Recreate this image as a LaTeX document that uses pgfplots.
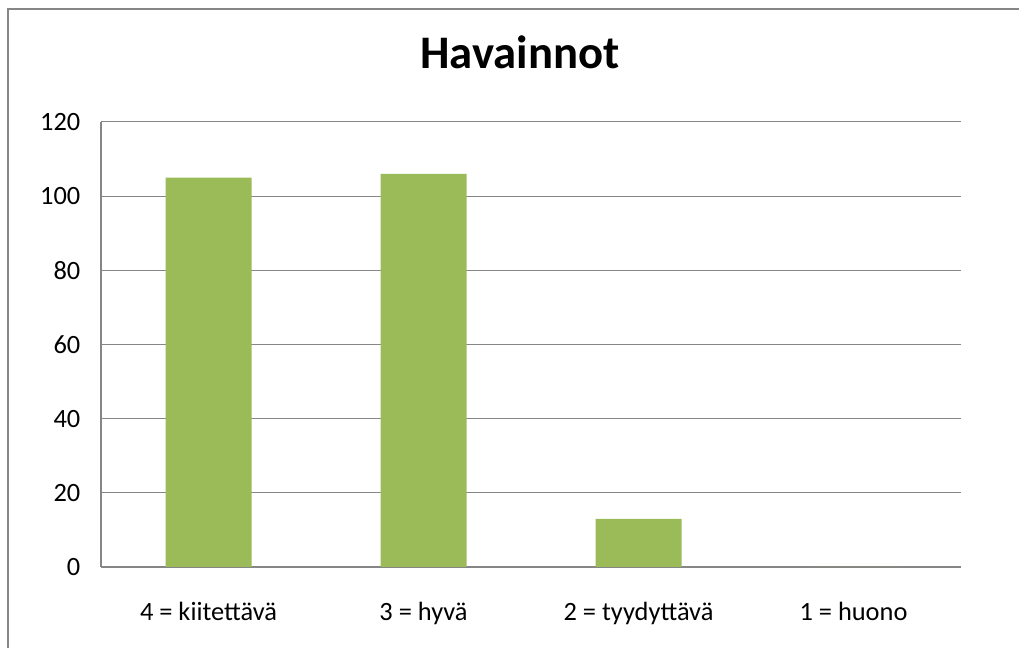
\documentclass[border=0pt]{standalone}
\usepackage{pgfplots}
\pgfplotsset{compat=1.18}
\usepackage{fontspec}
\setmainfont{Carlito}
\definecolor{bargreen}{HTML}{9BBB59}
\definecolor{gridgray}{HTML}{868686}
\begin{document}
\begin{tikzpicture}[x=0.75pt,y=0.75pt]
\useasboundingbox (0,0) rectangle (1019,648);
\begin{scope}
\clip (0,0) rectangle (1019,648);
\draw[gridgray, line width=1.2pt] (8,-50) -- (8,639) -- (1100,639);
\end{scope}
\node[font=\bfseries\fontsize{35}{38}\selectfont, anchor=base] at (520,648-69) {Havainnot};
\begin{axis}[
  at={(101*0.75pt,81*0.75pt)}, anchor=south west,
  scale only axis,
  width=645pt, height=333.75pt,
  xmin=-0.5, xmax=3.5, ymin=0, ymax=120,
  ytick={0,20,...,120},
  xtick={0,1,2,3},
  xticklabels={4 = kiitettävä, 3 = hyvä, 2 = tyydyttävä, 1 = huono},
  ymajorgrids,
  grid style={gridgray, line width=0.75pt},
  axis x line*=bottom,
  axis y line*=left,
  axis line style={gridgray, line width=0.9pt},
  tick style={draw=none},
  major tick length=0pt,
  ticklabel style={font=\fontsize{19.8}{22}\selectfont, text=black},
  /pgf/number format/assume math mode=true,
  yticklabel style={xshift=-12pt},
  xticklabel style={yshift=-23pt},
  ybar, bar width=64.5pt,
  enlarge x limits=false,
  clip=false,
]
\addplot[fill=bargreen, draw=none] coordinates {(0,105) (1,106) (2,13) (3,0)};
\end{axis}
\end{tikzpicture}
\end{document}
